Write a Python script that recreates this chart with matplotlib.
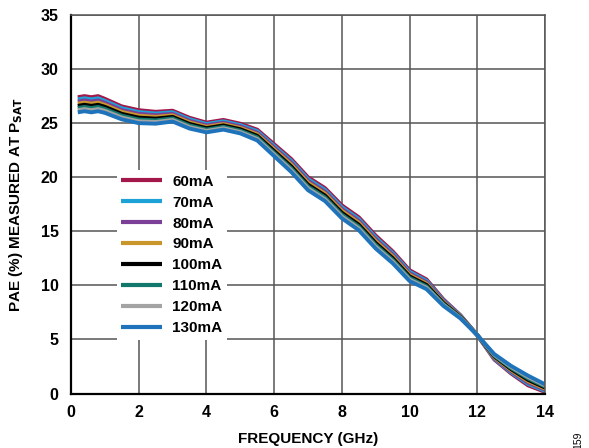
import matplotlib
matplotlib.use("Agg")
import matplotlib.pyplot as plt

plt.rcParams['font.family'] = ['Liberation Sans', 'DejaVu Sans']

freq = [0.2, 0.4, 0.6, 0.8, 1.0, 1.5, 2.0, 2.5, 3.0, 3.5, 4.0, 4.5, 5.0, 5.5, 6.0,
        6.5, 7.0, 7.5, 8.0, 8.5, 9.0, 9.5, 10.0, 10.5, 11.0, 11.5, 12.0, 12.5, 13.0,
        13.5, 14.0]

pae_60 = [27.4, 27.5, 27.4, 27.5, 27.25, 26.55, 26.2, 26.05, 26.15, 25.5, 25.05, 25.3,
          24.95, 24.4, 23.05, 21.7, 20.0, 19.0, 17.4, 16.3, 14.6, 13.15, 11.4, 10.55,
          8.7, 7.25, 5.4, 3.15, 1.85, 0.75, 0.15]
pae_70 = [27.2, 27.3, 27.2, 27.3, 27.06, 26.38, 26.03, 25.89, 26.01, 25.36, 24.92, 25.17,
          24.82, 24.26, 22.89, 21.53, 19.83, 18.83, 17.23, 16.13, 14.43, 12.99, 11.26,
          10.42, 8.61, 7.21, 5.4, 3.22, 1.95, 0.88, 0.25]
pae_80 = [27.0, 27.1, 27.0, 27.1, 26.88, 26.21, 25.86, 25.74, 25.86, 25.21, 24.79, 25.04,
          24.69, 24.11, 22.74, 21.36, 19.66, 18.66, 17.06, 15.96, 14.26, 12.84, 11.11,
          10.29, 8.53, 7.16, 5.4, 3.29, 2.05, 1.01, 0.35]
pae_90 = [26.8, 26.9, 26.8, 26.9, 26.69, 26.04, 25.69, 25.58, 25.72, 25.07, 24.66, 24.91,
          24.56, 23.97, 22.58, 21.19, 19.49, 18.49, 16.89, 15.79, 14.09, 12.68, 10.97,
          10.16, 8.44, 7.12, 5.4, 3.36, 2.15, 1.14, 0.45]
pae_100 = [26.6, 26.7, 26.6, 26.7, 26.51, 25.86, 25.51, 25.42, 25.58, 24.93, 24.54, 24.79,
           24.44, 23.83, 22.42, 21.01, 19.31, 18.31, 16.71, 15.61, 13.91, 12.52, 10.83,
           10.04, 8.36, 7.08, 5.4, 3.44, 2.25, 1.26, 0.55]
pae_110 = [26.4, 26.5, 26.4, 26.5, 26.32, 25.69, 25.34, 25.26, 25.44, 24.79, 24.41, 24.66,
           24.31, 23.69, 22.26, 20.84, 19.14, 18.14, 16.54, 15.44, 13.74, 12.36, 10.69,
           9.91, 8.27, 7.04, 5.4, 3.51, 2.35, 1.39, 0.65]
pae_120 = [26.2, 26.3, 26.2, 26.3, 26.14, 25.52, 25.17, 25.11, 25.29, 24.64, 24.28, 24.53,
           24.18, 23.54, 22.11, 20.67, 18.97, 17.97, 16.37, 15.27, 13.57, 12.21, 10.54,
           9.78, 8.19, 6.99, 5.4, 3.58, 2.45, 1.52, 0.75]
pae_130 = [26.0, 26.1, 26.0, 26.1, 25.95, 25.35, 25.0, 24.95, 25.15, 24.5, 24.15, 24.4,
           24.05, 23.4, 21.95, 20.5, 18.8, 17.8, 16.2, 15.1, 13.4, 12.05, 10.4, 9.65,
           8.1, 6.95, 5.4, 3.65, 2.55, 1.65, 0.85]

labels = ['60mA', '70mA', '80mA', '90mA', '100mA', '110mA', '120mA', '130mA']
series = [pae_60, pae_70, pae_80, pae_90, pae_100, pae_110, pae_120, pae_130]
colors = ['#A3174A', '#1DA2D8', '#7B3F98', '#C9962B', '#000000', '#13786C', '#A3A3A3', '#1F73BA']

xticks = [0, 2, 4, 6, 8, 10, 12, 14]
yticks = [0, 5, 10, 15, 20, 25, 30, 35]

fig = plt.figure(figsize=(5.89, 4.48), dpi=100)
ax = fig.add_axes([71/589, 1 - 393.5/448, 474/589, 378.5/448])

for y, c, lab in zip(series, colors, labels):
    ax.plot(freq, y, color=c, lw=2.8, label=lab, solid_joinstyle='round',
            solid_capstyle='butt')

ax.set_xlim(0, 14)
ax.set_ylim(0, 35)
ax.set_xticks(xticks)
ax.set_yticks(yticks)
ax.grid(True, color='#555555', lw=1.1)
ax.set_axisbelow(True)
ax.tick_params(length=0, labelsize=11.5)
ax.tick_params(axis='x', pad=8)
ax.tick_params(axis='y', pad=9)
for lab in ax.get_xticklabels() + ax.get_yticklabels():
    lab.set_fontweight('bold')

for s in ['left', 'bottom']:
    ax.spines[s].set_color('black')
    ax.spines[s].set_linewidth(1.6)
for s in ['top', 'right']:
    ax.spines[s].set_color('#555555')
    ax.spines[s].set_linewidth(1.1)

ax.set_xlabel('FREQUENCY (GHz)', fontsize=11, fontweight='bold', labelpad=9)
ax.set_ylabel('PAE (%) MEASURED AT P$_{\\mathbf{SAT}}$', fontsize=11, fontweight='bold', labelpad=11)

leg = ax.legend(loc='upper left', bbox_to_anchor=(0.08, 0.61), frameon=True,
                fancybox=False, edgecolor='none', facecolor='white', framealpha=1,
                prop={'weight': 'bold', 'size': 11}, handlelength=2.7,
                handletextpad=0.65, labelspacing=0.45, borderpad=0.3)
for h in leg.get_lines():
    h.set_linewidth(3)

fig.text(578/589, 1 - 440/448, '159', rotation=90, fontsize=7.5, ha='center', va='center')

fig.savefig('out.png', dpi=100)
